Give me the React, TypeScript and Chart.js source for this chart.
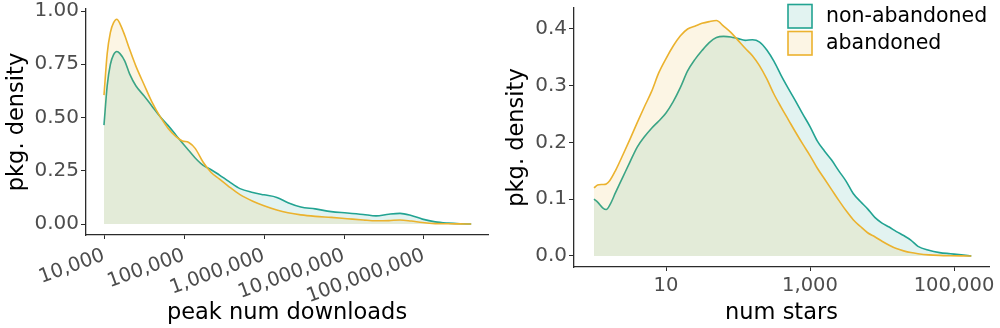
import { useEffect, useRef } from "react";
import { Chart, registerables } from "chart.js";

Chart.register(...registerables);

// ---------- data ----------
const SERIES_LABELS = ["non-abandoned", "abandoned"];

// left panel: log10(peak num downloads) sample positions
const DOWNLOAD_EXP = [
  4.0, 4.04, 4.08, 4.12, 4.16, 4.2, 4.26, 4.32, 4.4, 4.5, 4.6, 4.7, 4.8, 4.9, 4.98,
  5.06, 5.14, 5.24, 5.34, 5.44, 5.56, 5.7, 5.86, 6.0, 6.16, 6.3, 6.46, 6.64, 6.84,
  7.04, 7.24, 7.4, 7.56, 7.7, 7.84, 7.98, 8.14, 8.3, 8.45, 8.59,
];
const DOWNLOAD_NON_ABANDONED = [
  0.464, 0.65, 0.75, 0.795, 0.81, 0.8, 0.765, 0.705, 0.648, 0.602, 0.553, 0.505, 0.463,
  0.417, 0.38, 0.345, 0.31, 0.275, 0.255, 0.231, 0.2, 0.166, 0.148, 0.137, 0.125, 0.1,
  0.08, 0.071, 0.058, 0.052, 0.045, 0.038, 0.046, 0.05, 0.04, 0.023, 0.01, 0.004, 0.001, 0,
];
const DOWNLOAD_ABANDONED = [
  0.605, 0.8, 0.9, 0.945, 0.961, 0.94, 0.885, 0.82, 0.74, 0.655, 0.572, 0.505, 0.45,
  0.41, 0.39, 0.383, 0.355, 0.29, 0.242, 0.212, 0.176, 0.138, 0.107, 0.086, 0.066,
  0.053, 0.043, 0.036, 0.031, 0.025, 0.019, 0.015, 0.016, 0.019, 0.014, 0.007, 0.002,
  0.001, 0.0005, 0,
];
const DOWNLOAD_TICKS = [10000, 100000, 1000000, 10000000, 100000000];
const LEFT_DENSITY_TICKS = [0, 0.25, 0.5, 0.75, 1];

// right panel: log10(num stars) sample positions
const STAR_EXP = [
  0.0, 0.05, 0.12, 0.17, 0.22, 0.3, 0.4, 0.5, 0.6, 0.7, 0.8, 0.9, 1.0, 1.1, 1.2, 1.3,
  1.4, 1.5, 1.6, 1.7, 1.8, 1.9, 2.0, 2.1, 2.2, 2.3, 2.4, 2.5, 2.6, 2.7, 2.8, 2.9, 3.0,
  3.1, 3.2, 3.3, 3.4, 3.5, 3.6, 3.7, 3.8, 3.9, 4.0, 4.1, 4.2, 4.3, 4.4, 4.5, 4.65, 4.8,
  4.95, 5.1, 5.24,
];
const STAR_NON_ABANDONED = [
  0.1, 0.095, 0.085, 0.082, 0.09, 0.112, 0.139, 0.166, 0.192, 0.21, 0.225, 0.238,
  0.252, 0.272, 0.297, 0.326, 0.346, 0.362, 0.376, 0.385, 0.387, 0.386, 0.383, 0.38,
  0.381, 0.377, 0.363, 0.343, 0.318, 0.295, 0.273, 0.25, 0.228, 0.203, 0.185, 0.169,
  0.15, 0.132, 0.11, 0.096, 0.083, 0.068, 0.058, 0.051, 0.043, 0.036, 0.028, 0.017,
  0.01, 0.006, 0.004, 0.002, 0,
];
const STAR_ABANDONED = [
  0.12, 0.125, 0.126, 0.127, 0.133, 0.151, 0.178, 0.206, 0.235, 0.263, 0.29, 0.323,
  0.348, 0.37, 0.388, 0.4, 0.405, 0.41, 0.413, 0.415, 0.405, 0.394, 0.38, 0.366, 0.353,
  0.335, 0.312, 0.285, 0.262, 0.24, 0.218, 0.197, 0.177, 0.155, 0.136, 0.117, 0.098,
  0.08, 0.064, 0.052, 0.041, 0.034, 0.026, 0.019, 0.013, 0.009, 0.006, 0.004, 0.002,
  0.001, 0.0005, 0.0002, 0,
];
const STAR_TICKS = [10, 1000, 100000];
const RIGHT_DENSITY_TICKS = [0, 0.1, 0.2, 0.3, 0.4];

// ---------- style ----------
const FONT = "'DejaVu Sans', 'Liberation Sans', Arial, sans-serif";
const GREEN = "#22a392";
const ORANGE = "#ebb22e";
const GREEN_FILL = "rgba(34,163,146,0.13)";
const ORANGE_FILL = "rgba(235,178,46,0.13)";
const AXIS = "#2b2b2b";
const TICK_TEXT = "#4d4d4d";

type PanelCfg = {
  exps: number[];
  nonAb: number[];
  ab: number[];
  xTicks: number[];
  yTicks: number[];
  yDigits: number;
  xMinExp: number;
  xMaxExp: number;
  yMin: number;
  yMax: number;
  xTitle: string;
  rotation: number;
  xTickPadding: number;
  yScaleWidth: number;
  xScaleHeight: number;
  padTop: number;
  padRight: number;
  legend: boolean;
};

const legendPlugin = {
  id: "insetLegend",
  afterDraw(chart: any) {
    const ctx = chart.ctx as CanvasRenderingContext2D;
    const items = [
      { label: SERIES_LABELS[0], line: GREEN, fill: GREEN_FILL },
      { label: SERIES_LABELS[1], line: ORANGE, fill: ORANGE_FILL },
    ];
    ctx.save();
    items.forEach((it, i) => {
      const x = 288;
      const y = 4.5 + i * 27;
      const w = 24;
      const h = 23.5;
      ctx.fillStyle = "#ffffff";
      ctx.fillRect(x, y, w, h);
      ctx.fillStyle = it.fill;
      ctx.fillRect(x, y, w, h);
      ctx.strokeStyle = it.line;
      ctx.lineWidth = 1.6;
      ctx.strokeRect(x, y, w, h);
      ctx.fillStyle = "#000000";
      ctx.font = `20.5px ${FONT}`;
      ctx.textBaseline = "middle";
      ctx.textAlign = "left";
      ctx.fillText(it.label, 326, y + h / 2 + 0.5);
    });
    ctx.restore();
  },
};

function buildChart(canvas: HTMLCanvasElement, p: PanelCfg) {
  const toPoints = (ys: number[]) => p.exps.map((e, i) => ({ x: Math.pow(10, e), y: ys[i] }));
  return new Chart(canvas, {
    type: "line",
    data: {
      datasets: [
        {
          label: SERIES_LABELS[1],
          data: toPoints(p.ab),
          borderColor: ORANGE,
          backgroundColor: ORANGE_FILL,
          borderWidth: 1.6,
          fill: "origin",
          pointRadius: 0,
          cubicInterpolationMode: "monotone",
        },
        {
          label: SERIES_LABELS[0],
          data: toPoints(p.nonAb),
          borderColor: GREEN,
          backgroundColor: GREEN_FILL,
          borderWidth: 1.6,
          fill: "origin",
          pointRadius: 0,
          cubicInterpolationMode: "monotone",
        },
      ],
    },
    options: {
      animation: false,
      responsive: true,
      maintainAspectRatio: false,
      events: [],
      layout: { padding: { top: p.padTop, right: p.padRight, left: 0, bottom: 0 } },
      plugins: {
        legend: { display: false },
        tooltip: { enabled: false },
      },
      scales: {
        x: {
          type: "logarithmic",
          bounds: "data",
          min: Math.pow(10, p.xMinExp),
          max: Math.pow(10, p.xMaxExp),
          afterBuildTicks: (axis: any) => {
            axis.ticks = p.xTicks.map((v) => ({ value: v }));
          },
          afterFit: (axis: any) => {
            axis.height = p.xScaleHeight;
            axis.paddingLeft = 0;
            axis.paddingRight = 0;
          },
          grid: {
            display: true,
            drawOnChartArea: false,
            drawTicks: true,
            tickLength: 4,
            color: AXIS,
            lineWidth: 1,
          },
          border: { display: true, color: AXIS, width: 1.3 },
          ticks: {
            autoSkip: false,
            minRotation: p.rotation,
            maxRotation: p.rotation,
            padding: p.xTickPadding,
            color: TICK_TEXT,
            font: { family: FONT, size: 19.5 },
            callback: (v: any) => Number(v).toLocaleString("en-US"),
          },
          title: {
            display: true,
            text: p.xTitle,
            color: "#000000",
            font: { family: FONT, size: 22.5 },
            padding: { top: 0, bottom: 1.5 },
          },
        },
        y: {
          type: "linear",
          bounds: "data",
          min: p.yMin,
          max: p.yMax,
          afterBuildTicks: (axis: any) => {
            axis.ticks = p.yTicks.map((v) => ({ value: v }));
          },
          afterFit: (axis: any) => {
            axis.width = p.yScaleWidth;
            axis.paddingTop = 0;
            axis.paddingBottom = 0;
          },
          grid: {
            display: true,
            drawOnChartArea: false,
            drawTicks: true,
            tickLength: 5,
            color: AXIS,
            lineWidth: 1,
          },
          border: { display: true, color: AXIS, width: 1.3 },
          ticks: {
            padding: 2,
            color: TICK_TEXT,
            font: { family: FONT, size: 20 },
            callback: (v: any) => Number(v).toFixed(p.yDigits),
          },
          title: {
            display: true,
            text: "pkg. density",
            color: "#000000",
            font: { family: FONT, size: 22.5 },
            padding: { top: 3.5, bottom: 0 },
          },
        },
      },
    },
    plugins: p.legend ? [legendPlugin] : [],
  } as any);
}

export default function App() {
  const leftRef = useRef<HTMLCanvasElement | null>(null);
  const rightRef = useRef<HTMLCanvasElement | null>(null);

  useEffect(() => {
    const left = buildChart(leftRef.current!, {
      exps: DOWNLOAD_EXP,
      nonAb: DOWNLOAD_NON_ABANDONED,
      ab: DOWNLOAD_ABANDONED,
      xTicks: DOWNLOAD_TICKS,
      yTicks: LEFT_DENSITY_TICKS,
      yDigits: 2,
      xMinExp: 3.775,
      xMaxExp: 8.8,
      yMin: -0.0516,
      yMax: 1.0094,
      xTitle: "peak num downloads",
      rotation: 20,
      xTickPadding: 5,
      yScaleWidth: 86,
      xScaleHeight: 93,
      padTop: 9,
      padRight: 12,
      legend: false,
    });
    const right = buildChart(rightRef.current!, {
      exps: STAR_EXP,
      nonAb: STAR_NON_ABANDONED,
      ab: STAR_ABANDONED,
      xTicks: STAR_TICKS,
      yTicks: RIGHT_DENSITY_TICKS,
      yDigits: 1,
      xMinExp: -0.278,
      xMaxExp: 5.486,
      yMin: -0.0194,
      yMax: 0.437,
      xTitle: "num stars",
      rotation: 0,
      xTickPadding: 3,
      yScaleWidth: 74,
      xScaleHeight: 61,
      padTop: 8,
      padRight: 11,
      legend: true,
    });
    return () => {
      left.destroy();
      right.destroy();
    };
  }, []);

  return (
    <div style={{ position: "absolute", left: 0, top: 0, width: 1000, height: 328, background: "#ffffff" }}>
      <div style={{ position: "absolute", left: 0, top: 0, width: 500, height: 328 }}>
        <canvas ref={leftRef} />
      </div>
      <div style={{ position: "absolute", left: 500, top: 0, width: 500, height: 328 }}>
        <canvas ref={rightRef} />
      </div>
    </div>
  );
}
